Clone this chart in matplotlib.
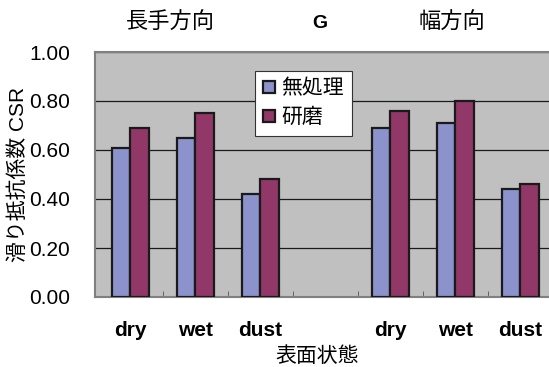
import numpy as np
import matplotlib
matplotlib.use("Agg")
import matplotlib.pyplot as plt

plt.rcParams['font.family'] = ['Liberation Sans', 'Noto Sans CJK JP', 'DejaVu Sans']

# Data
categories = ["dry", "wet", "dust", "", "dry", "wet", "dust"]
untreated = [0.61, 0.65, 0.42, np.nan, 0.69, 0.71, 0.44]   # 無処理
polished = [0.69, 0.75, 0.48, np.nan, 0.76, 0.80, 0.46]    # 研磨
series_names = ["無処理", "研磨"]
group_titles = ["長手方向", "G", "幅方向"]

fig = plt.figure(figsize=(5.49, 3.67), dpi=100)
ax = fig.add_axes([95 / 549, 1 - 297 / 367, 458 / 549, 245 / 367])
ax.set_facecolor("#c0c0c0")

x = np.arange(len(categories))
w = 0.29
ax.bar(x - w / 2, untreated, w, color="#8c93cc", edgecolor="#1a1a1a", linewidth=1.6,
       label=series_names[0], zorder=3)
ax.bar(x + w / 2, polished, w, color="#923868", edgecolor="#1a1a1a", linewidth=1.6,
       label=series_names[1], zorder=3)

ax.set_xlim(-0.546, len(categories) - 0.5)
ax.set_ylim(0, 1.0)
ax.set_yticks(np.arange(0, 1.01, 0.2))
ax.set_yticklabels([f"{v:.2f}" for v in np.arange(0, 1.01, 0.2)], fontsize=15)
ax.yaxis.grid(True, color="#1a1a1a", linewidth=0.9, zorder=1)
ax.set_axisbelow(True)

# tick marks between categories
ax.set_xticks(x + 0.5, minor=True)
ax.tick_params(axis="x", which="minor", length=4, direction="in", color="#555555")
ax.set_xticks(x)
ax.set_xticklabels(categories, fontsize=15, fontweight="bold")
ax.tick_params(axis="x", which="major", length=0, pad=17)
ax.tick_params(axis="y", length=0, pad=18)

for s in ["left", "top", "bottom"]:
    ax.spines[s].set_color("#808080")
    ax.spines[s].set_linewidth(1.5)
ax.spines["right"].set_visible(False)

ax.set_xlabel("表面状態", fontsize=15)
ax.xaxis.set_label_coords((317 - 95) / 458, -(346 - 297) / 245)
ax.set_ylabel("滑り抵抗係数 CSR", fontsize=15)
ax.yaxis.set_label_coords(-(95 - 28) / 458, 0.5)

fig.text(170 / 549, 1 - 23 / 367, group_titles[0], fontsize=16, ha="center", va="center")
fig.text(320 / 549, 1 - 23 / 367, group_titles[1], fontsize=14, ha="center", va="center",
         fontweight="bold")
fig.text(452 / 549, 1 - 23 / 367, group_titles[2], fontsize=16, ha="center", va="center")

leg = ax.legend(loc="upper left", bbox_to_anchor=((255 - 95) / 458, (297 - 71) / 245),
                fontsize=15, frameon=True, fancybox=False, handlelength=0.55,
                handleheight=0.55, handletextpad=0.3, borderpad=0.4, labelspacing=0.45,
                borderaxespad=0)
leg.get_frame().set_edgecolor("#333333")
leg.get_frame().set_linewidth(0.8)
leg.get_frame().set_facecolor("white")
leg.get_frame().set_alpha(1)

fig.savefig("out.png", dpi=100)
